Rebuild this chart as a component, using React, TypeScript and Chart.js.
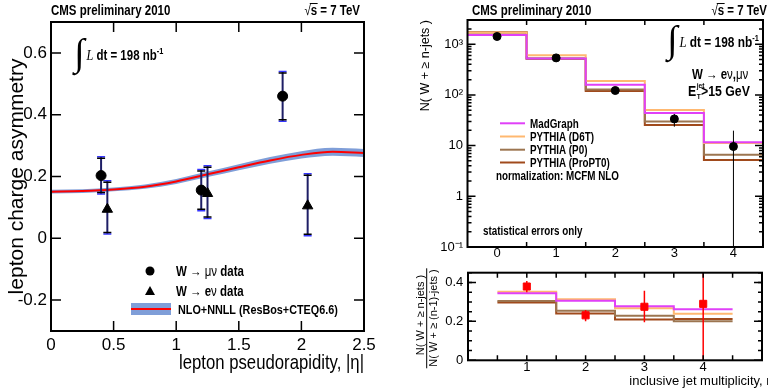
import React, { useEffect, useRef } from "react";
import { Chart, registerables } from "chart.js";

Chart.register(...registerables);

const SANS = '"Liberation Sans", Arial, sans-serif';
const SERIF = '"Liberation Serif", "DejaVu Serif", serif';
const NX = 0.82; // horizontal squeeze used for annotation text

// ---------------- Left panel: lepton charge asymmetry ----------------
const ETA_MU = [0.4, 1.2, 1.85];
const ASYM_MU = [0.203, 0.156, 0.46];
const ASYM_MU_HI = [0.264, 0.223, 0.54];
const ASYM_MU_LO = [0.143, 0.089, 0.379];

const ETA_E = [0.45, 1.25, 2.05];
const ASYM_E = [0.094, 0.145, 0.105];
const ASYM_E_HI = [0.186, 0.235, 0.209];
const ASYM_E_LO = [0.014, 0.064, 0.008];

const THEORY_ETA = [0, 0.25, 0.5, 0.75, 1.0, 1.25, 1.5, 1.75, 2.0, 2.25, 2.5];
const THEORY_ASYM = [0.151, 0.153, 0.158, 0.167, 0.184, 0.207, 0.23, 0.252, 0.27, 0.28, 0.276];
const THEORY_ERR = [0.006, 0.006, 0.006, 0.007, 0.008, 0.009, 0.01, 0.011, 0.012, 0.013, 0.013];

const ETA_TICKS = [0, 0.5, 1, 1.5, 2, 2.5];
const ETA_TICK_LABELS = ["0", "0.5", "1", "1.5", "2", "2.5"];
const ASYM_TICKS = [-0.2, 0, 0.2, 0.4, 0.6];
const ASYM_TICK_LABELS = ["-0.2", "0", "0.2", "0.4", "0.6"];

// ---------------- Right top: N(W + >= n jets) ----------------
const NJET = [0, 1, 2, 3, 4];
const NJET_LABELS = ["0", "1", "2", "3", "4"];
const NJET_EDGES = [-0.5, 0.5, 1.5, 2.5, 3.5, 4.5];
const DATA_N = [1420, 537, 122, 33.6, 9.6];
const DATA_N_HI = [1460, 560, 133, 42, 19.7];
const DATA_N_LO = [1380, 514, 111, 23.6, 0];
const MADGRAPH_N = [1510, 520, 158, 44, 11.6];
const D6T_N = [1700, 605, 188, 50.6, 11.2];
const P0_N = [1700, 520, 128, 30, 6.6];
const PROPT0_N = [1720, 515, 119, 25.5, 5.2];
const LOG_TICKS = [0.1, 1, 10, 100, 1000];
const LOG_TICK_LABELS = ["10\u207B\u00B9", "1", "10", "10\u00B2", "10\u00B3"];

// ---------------- Right bottom: ratio ----------------
const RATIO_N = [1, 2, 3, 4];
const RATIO_LABELS = ["1", "2", "3", "4"];
const RATIO_EDGES = [0.5, 1.5, 2.5, 3.5, 4.5];
const DATA_R = [0.379, 0.231, 0.275, 0.29];
const DATA_R_HI = [0.408, 0.258, 0.357, 0.6];
const DATA_R_LO = [0.349, 0.2, 0.196, 0];
const MADGRAPH_R = [0.344, 0.306, 0.278, 0.262];
const D6T_R = [0.352, 0.314, 0.267, 0.239];
const P0_R = [0.304, 0.254, 0.229, 0.2];
const PROPT0_R = [0.297, 0.241, 0.21, 0.212];
const RATIO_TICKS = [0, 0.2, 0.4];
const RATIO_TICK_LABELS = ["0", "0.2", "0.4"];

const MODEL_NAMES = ["MadGraph", "PYTHIA (D6T)", "PYTHIA (P0)", "PYTHIA (ProPT0)"];
const MODEL_COLORS = ["#e040f8", "#ffb870", "#9c7550", "#a04a1c"];

// ---------------- helpers ----------------
type Seg = { t: string; f: string; dy?: number };

function drawRich(
  ctx: CanvasRenderingContext2D,
  x: number,
  y: number,
  segs: Seg[],
  align = "left",
  sx = NX
) {
  ctx.save();
  ctx.textBaseline = "alphabetic";
  ctx.textAlign = "left";
  ctx.fillStyle = "#000";
  const widths = segs.map((s) => {
    ctx.font = s.f;
    return ctx.measureText(s.t).width;
  });
  const natural = widths.reduce((a, b) => a + b, 0);
  const total = natural * sx;
  const x0 = align === "right" ? x - total : align === "center" ? x - total / 2 : x;
  ctx.translate(x0, y);
  ctx.scale(sx, 1);
  const starts: number[] = [];
  let cx = 0;
  segs.forEach((s, i) => {
    ctx.font = s.f;
    starts.push(x0 + cx * sx);
    ctx.fillText(s.t, cx, s.dy || 0);
    cx += widths[i];
  });
  ctx.restore();
  return { starts, widths: widths.map((w) => w * sx), total };
}

function histPoints(edges: number[], vals: number[]) {
  const pts: { x: number; y: number }[] = [];
  vals.forEach((v, i) => {
    pts.push({ x: edges[i], y: v });
    pts.push({ x: edges[i + 1], y: v });
  });
  return pts;
}

function errBars(
  chart: any,
  xs: number[],
  his: number[],
  los: number[],
  color: string,
  width: number,
  capHalf: number,
  capColor?: string
) {
  const ctx = chart.ctx as CanvasRenderingContext2D;
  const xS = chart.scales.x;
  const yS = chart.scales.y;
  const a = chart.chartArea;
  ctx.save();
  ctx.beginPath();
  ctx.rect(a.left, a.top, a.right - a.left, a.bottom - a.top);
  ctx.clip();
  xs.forEach((xv, i) => {
    const px = xS.getPixelForValue(xv);
    const pHi = yS.getPixelForValue(his[i]);
    const pLo = yS.getPixelForValue(Math.max(los[i], yS.min));
    ctx.strokeStyle = color;
    ctx.lineWidth = width;
    ctx.beginPath();
    ctx.moveTo(px, pHi);
    ctx.lineTo(px, pLo);
    ctx.stroke();
    if (capHalf > 0) {
      ctx.lineWidth = 1.5;
      if (capColor) {
        ctx.strokeStyle = capColor;
        ctx.beginPath();
        ctx.moveTo(px - capHalf, pHi);
        ctx.lineTo(px + capHalf, pHi);
        ctx.moveTo(px - capHalf, pLo);
        ctx.lineTo(px + capHalf, pLo);
        ctx.stroke();
      }
      ctx.strokeStyle = "#000";
      const d = capColor ? 1.5 : 0;
      ctx.beginPath();
      ctx.moveTo(px - capHalf, pHi + d);
      ctx.lineTo(px + capHalf, pHi + d);
      ctx.moveTo(px - capHalf, pLo - d);
      ctx.lineTo(px + capHalf, pLo - d);
      ctx.stroke();
    }
  });
  ctx.restore();
}

function frame(ctx: CanvasRenderingContext2D, a: any) {
  ctx.save();
  ctx.strokeStyle = "#000";
  ctx.lineWidth = 2;
  ctx.strokeRect(a.left, a.top, a.right - a.left, a.bottom - a.top);
  ctx.restore();
}

function xTicks(ctx: CanvasRenderingContext2D, a: any, pxs: number[], len: number) {
  ctx.save();
  ctx.strokeStyle = "#000";
  ctx.lineWidth = 1.5;
  ctx.beginPath();
  pxs.forEach((p) => {
    ctx.moveTo(p, a.bottom);
    ctx.lineTo(p, a.bottom - len);
    ctx.moveTo(p, a.top);
    ctx.lineTo(p, a.top + len);
  });
  ctx.stroke();
  ctx.restore();
}

function yTicks(ctx: CanvasRenderingContext2D, a: any, pys: number[], len: number) {
  ctx.save();
  ctx.strokeStyle = "#000";
  ctx.lineWidth = 1.5;
  ctx.beginPath();
  pys.forEach((p) => {
    ctx.moveTo(a.left, p);
    ctx.lineTo(a.left + len, p);
    ctx.moveTo(a.right, p);
    ctx.lineTo(a.right - len, p);
  });
  ctx.stroke();
  ctx.restore();
}

function integralLabel(ctx: CanvasRenderingContext2D, x: number, y: number, size: number, intSize: number) {
  ctx.save();
  ctx.fillStyle = "#000";
  ctx.textBaseline = "alphabetic";
  ctx.font = `${intSize}px ${SERIF}`;
  ctx.fillText("\u222B", x, y + intSize * 0.12);
  ctx.restore();
  drawRich(ctx, x + intSize * 0.33, y, [
    { t: "L ", f: `italic ${size + 1}px ${SERIF}` },
    { t: "dt = 198 nb", f: `bold ${size}px ${SANS}` },
    { t: "-1", f: `bold ${Math.round(size * 0.62)}px ${SANS}`, dy: -size * 0.42 },
  ]);
}

function sqrtLabel(ctx: CanvasRenderingContext2D, xRight: number, y: number, size: number) {
  const r = drawRich(
    ctx,
    xRight,
    y,
    [
      { t: "\u221A", f: `${size}px ${SANS}` },
      { t: "s", f: `bold ${size}px ${SANS}` },
      { t: " = 7 TeV", f: `bold ${size}px ${SANS}` },
    ],
    "right"
  );
  ctx.save();
  ctx.strokeStyle = "#000";
  ctx.lineWidth = 1;
  ctx.beginPath();
  const top = y - size * 0.82;
  ctx.moveTo(r.starts[1] - 1, top);
  ctx.lineTo(r.starts[1] + r.widths[1] + 0.5, top);
  ctx.stroke();
  ctx.restore();
}

function rotatedText(
  ctx: CanvasRenderingContext2D,
  text: string,
  x: number,
  y: number,
  font: string,
  align: CanvasTextAlign
) {
  ctx.save();
  ctx.fillStyle = "#000";
  ctx.font = font;
  ctx.textAlign = align;
  ctx.textBaseline = "alphabetic";
  ctx.translate(x, y);
  ctx.rotate(-Math.PI / 2);
  ctx.fillText(text, 0, 0);
  ctx.restore();
}

const tickFont = (size: number) => ({ family: SANS, size, lineHeight: 1 });

// ---------------- Left chart ----------------
function leftConfig(): any {
  const decor = {
    id: "leftDecor",
    beforeDatasetDraw(chart: any, args: any) {
      if (args.index === 0) errBars(chart, ETA_MU, ASYM_MU_HI, ASYM_MU_LO, "#1e1e66", 2, 4, "#3535ff");
      if (args.index === 1) errBars(chart, ETA_E, ASYM_E_HI, ASYM_E_LO, "#1e1e66", 2, 4, "#3535ff");
    },
    afterDraw(chart: any) {
      const ctx = chart.ctx as CanvasRenderingContext2D;
      const a = chart.chartArea;
      const xS = chart.scales.x;
      const yS = chart.scales.y;
      frame(ctx, a);
      xTicks(ctx, a, ETA_TICKS.map((v) => xS.getPixelForValue(v)), 10);
      yTicks(ctx, a, ASYM_TICKS.map((v) => yS.getPixelForValue(v)), 10);

      drawRich(ctx, 51, 15, [{ t: "CMS preliminary 2010", f: `bold 14px ${SANS}` }]);
      sqrtLabel(ctx, 360, 15, 14);
      integralLabel(ctx, 74, 60, 14, 38);

      // axis titles
      rotatedText(ctx, "lepton charge asymmetry", 22.5, (a.top + a.bottom) / 2, `21px ${SANS}`, "center");
      drawRich(ctx, a.right, 369, [{ t: "lepton pseudorapidity, |\u03B7|", f: `20.4px ${SANS}` }], "right");

      // legend
      ctx.save();
      ctx.fillStyle = "#000";
      ctx.beginPath();
      ctx.arc(150, 271, 4.5, 0, Math.PI * 2);
      ctx.fill();
      ctx.beginPath();
      ctx.moveTo(150, 286);
      ctx.lineTo(155, 295);
      ctx.lineTo(145, 295);
      ctx.closePath();
      ctx.fill();
      ctx.fillStyle = "#7f9ed8";
      ctx.fillRect(131, 303, 40, 12);
      ctx.strokeStyle = "#ff0000";
      ctx.lineWidth = 2;
      ctx.beginPath();
      ctx.moveTo(131, 309);
      ctx.lineTo(171, 309);
      ctx.stroke();
      ctx.restore();
      const lf = `bold 14px ${SANS}`;
      const rf = `14px ${SANS}`;
      drawRich(ctx, 176, 276, [
        { t: "W ", f: lf },
        { t: "\u2192 \u03BC\u03BD", f: rf },
        { t: " data", f: lf },
      ]);
      drawRich(ctx, 176, 296, [
        { t: "W ", f: lf },
        { t: "\u2192 ", f: rf },
        { t: "e", f: lf },
        { t: "\u03BD", f: rf },
        { t: " data", f: lf },
      ]);
      drawRich(ctx, 178, 314, [{ t: "NLO+NNLL (ResBos+CTEQ6.6)", f: `bold 13.2px ${SANS}` }]);
    },
  };

  return {
    type: "scatter",
    data: {
      datasets: [
        {
          data: ETA_MU.map((x, i) => ({ x, y: ASYM_MU[i] })),
          pointStyle: "circle",
          pointRadius: 5,
          backgroundColor: "#000",
          borderColor: "#000",
        },
        {
          data: ETA_E.map((x, i) => ({ x, y: ASYM_E[i] })),
          pointStyle: "triangle",
          pointRadius: 6,
          backgroundColor: "#000",
          borderColor: "#000",
        },
        {
          data: THEORY_ETA.map((x, i) => ({ x, y: THEORY_ASYM[i] })),
          showLine: true,
          borderColor: "#ff0000",
          borderWidth: 2,
          pointRadius: 0,
          cubicInterpolationMode: "monotone",
        },
        {
          data: THEORY_ETA.map((x, i) => ({ x, y: THEORY_ASYM[i] + THEORY_ERR[i] })),
          showLine: true,
          borderWidth: 0,
          borderColor: "rgba(0,0,0,0)",
          backgroundColor: "#7f9ed8",
          pointRadius: 0,
          fill: "+1",
          cubicInterpolationMode: "monotone",
        },
        {
          data: THEORY_ETA.map((x, i) => ({ x, y: THEORY_ASYM[i] - THEORY_ERR[i] })),
          showLine: true,
          borderWidth: 0,
          borderColor: "rgba(0,0,0,0)",
          pointRadius: 0,
          cubicInterpolationMode: "monotone",
        },
      ],
    },
    options: {
      animation: false,
      responsive: false,
      devicePixelRatio: 1,
      events: [],
      layout: { padding: { top: 22, right: 20, left: 0, bottom: 0 } },
      plugins: { legend: { display: false }, tooltip: { enabled: false } },
      scales: {
        x: {
          type: "linear",
          min: 0,
          max: 2.5,
          grid: { display: false, drawTicks: false },
          border: { display: false },
          afterBuildTicks: (s: any) => {
            s.ticks = ETA_TICKS.map((v) => ({ value: v }));
          },
          afterFit: (s: any) => {
            s.height = 60;
          },
          ticks: {
            autoSkip: false,
            maxRotation: 0,
            color: "#000",
            padding: 5.5,
            font: tickFont(17),
            callback: (_v: any, i: number) => ETA_TICK_LABELS[i],
          },
        },
        y: {
          type: "linear",
          min: -0.3,
          max: 0.7,
          grid: { display: false, drawTicks: false },
          border: { display: false },
          afterBuildTicks: (s: any) => {
            s.ticks = ASYM_TICKS.map((v) => ({ value: v }));
          },
          afterFit: (s: any) => {
            s.width = 51;
          },
          ticks: {
            autoSkip: false,
            color: "#000",
            padding: 4,
            font: tickFont(17),
            callback: (_v: any, i: number) => ASYM_TICK_LABELS[i],
          },
        },
      },
    },
    plugins: [decor],
  };
}

// ---------------- Right top chart ----------------
function topRightConfig(): any {
  const decor = {
    id: "trDecor",
    beforeDatasetDraw(chart: any, args: any) {
      if (args.index === 0) errBars(chart, NJET, DATA_N_HI, DATA_N_LO, "#000", 1, 0);
    },
    afterDraw(chart: any) {
      const ctx = chart.ctx as CanvasRenderingContext2D;
      const a = chart.chartArea;
      const xS = chart.scales.x;
      const yS = chart.scales.y;
      frame(ctx, a);
      xTicks(ctx, a, NJET_EDGES.slice(1, -1).map((v) => xS.getPixelForValue(v)), 5);
      yTicks(ctx, a, LOG_TICKS.map((v) => yS.getPixelForValue(v)), 8);
      const minor: number[] = [];
      LOG_TICKS.forEach((d) => {
        for (let k = 2; k <= 9; k++) {
          const v = d * k;
          if (v < yS.max) minor.push(yS.getPixelForValue(v));
        }
      });
      yTicks(ctx, a, minor, 4);

      drawRich(ctx, 88, 15, [{ t: "CMS preliminary 2010", f: `bold 14px ${SANS}` }]);
      sqrtLabel(ctx, 383, 15, 14);
      integralLabel(ctx, 283, 47, 14.5, 38);

      const bf = `bold 14px ${SANS}`;
      const rf = `14px ${SANS}`;
      drawRich(ctx, 308, 78.5, [
        { t: "W ", f: bf },
        { t: "\u2192 ", f: rf },
        { t: "e", f: bf },
        { t: "\u03BD", f: rf },
        { t: ",", f: bf },
        { t: "\u03BC\u03BD", f: rf },
      ]);
      const e = drawRich(ctx, 304, 96, [{ t: "E", f: `bold 15px ${SANS}` }]);
      const ex = e.starts[0] + e.widths[0] + 0.5;
      drawRich(ctx, ex, 88, [{ t: "jet", f: `bold 8px ${SANS}` }]);
      drawRich(ctx, ex, 99, [{ t: "T", f: `bold 8px ${SANS}` }]);
      drawRich(ctx, 317, 96, [{ t: ">15 GeV", f: `bold 15px ${SANS}` }]);

      // legend
      const rows = [127.6, 140.8, 154, 166.8];
      rows.forEach((y, i) => {
        ctx.save();
        ctx.strokeStyle = MODEL_COLORS[i];
        ctx.lineWidth = 2;
        ctx.beginPath();
        ctx.moveTo(116, y - 4.3);
        ctx.lineTo(141, y - 4.3);
        ctx.stroke();
        ctx.restore();
        drawRich(ctx, 146, y, [{ t: MODEL_NAMES[i], f: `bold 12px ${SANS}` }]);
      });
      drawRich(ctx, 112, 180, [{ t: "normalization: MCFM NLO", f: `bold 12px ${SANS}` }]);
      drawRich(ctx, 99, 234.5, [{ t: "statistical errors only", f: `bold 12px ${SANS}` }]);

      // y title
      rotatedText(ctx, "N( W + \u2265 n-jets )", 45, a.top, `12.5px ${SANS}`, "right");
    },
  };

  const models = [MADGRAPH_N, D6T_N, P0_N, PROPT0_N];
  return {
    type: "scatter",
    data: {
      datasets: [
        {
          data: NJET.map((x, i) => ({ x, y: DATA_N[i] })),
          pointStyle: "circle",
          pointRadius: 4,
          backgroundColor: "#000",
          borderColor: "#000",
        },
        ...models.map((m, i) => ({
          data: histPoints(NJET_EDGES, m),
          showLine: true,
          borderColor: MODEL_COLORS[i],
          borderWidth: 2,
          pointRadius: 0,
        })),
      ],
    },
    options: {
      animation: false,
      responsive: false,
      devicePixelRatio: 1,
      events: [],
      layout: { padding: { top: 20, right: 1, left: 0, bottom: 0 } },
      plugins: { legend: { display: false }, tooltip: { enabled: false } },
      scales: {
        x: {
          type: "linear",
          min: -0.5,
          max: 4.5,
          grid: { display: false, drawTicks: false },
          border: { display: false },
          afterBuildTicks: (s: any) => {
            s.ticks = NJET.map((v) => ({ value: v }));
          },
          afterFit: (s: any) => {
            s.height = 23;
          },
          ticks: {
            autoSkip: false,
            maxRotation: 0,
            color: "#000",
            padding: 0,
            font: tickFont(13),
            callback: (_v: any, i: number) => NJET_LABELS[i],
          },
        },
        y: {
          type: "logarithmic",
          min: 0.1,
          max: 3000,
          grid: { display: false, drawTicks: false },
          border: { display: false },
          afterBuildTicks: (s: any) => {
            s.ticks = LOG_TICKS.map((v) => ({ value: v }));
          },
          afterFit: (s: any) => {
            s.width = 83.5;
          },
          ticks: {
            autoSkip: false,
            color: "#000",
            padding: 4.5,
            font: tickFont(13),
            callback: (_v: any, i: number) => LOG_TICK_LABELS[i],
          },
        },
      },
    },
    plugins: [decor],
  };
}

// ---------------- Right bottom chart ----------------
function bottomRightConfig(): any {
  const decor = {
    id: "brDecor",
    beforeDatasetDraw(chart: any, args: any) {
      if (args.index === 0) errBars(chart, RATIO_N, DATA_R_HI, DATA_R_LO, "#ff0000", 1.5, 0);
    },
    afterDraw(chart: any) {
      const ctx = chart.ctx as CanvasRenderingContext2D;
      const a = chart.chartArea;
      const xS = chart.scales.x;
      const yS = chart.scales.y;
      frame(ctx, a);
      const xm: number[] = [];
      for (let v = 0.5; v < xS.max; v += 0.5) xm.push(xS.getPixelForValue(v));
      xTicks(ctx, a, xm, 5);
      yTicks(ctx, a, RATIO_TICKS.map((v) => yS.getPixelForValue(v)), 8);
      const ym: number[] = [];
      for (let v = 0.05; v < yS.max; v += 0.05) ym.push(yS.getPixelForValue(v));
      yTicks(ctx, a, ym, 4);

      // y title as a fraction
      rotatedText(ctx, "N( W + \u2265 n-jets )", 39.5, 65, `11px ${SANS}`, "center");
      rotatedText(ctx, "N( W + \u2265 (n-1)-jets )", 52.5, 68, `11px ${SANS}`, "center");
      ctx.save();
      ctx.strokeStyle = "#000";
      ctx.lineWidth = 1;
      ctx.beginPath();
      ctx.moveTo(42.7, 18.3);
      ctx.lineTo(42.7, 118.3);
      ctx.stroke();
      ctx.restore();

      drawRich(ctx, 245.3, 135, [{ t: "inclusive jet multiplicity, n", f: `13px ${SANS}` }], "left", 1);
    },
  };
  const models = [MADGRAPH_R, D6T_R, P0_R, PROPT0_R];
  return {
    type: "scatter",
    data: {
      datasets: [
        {
          data: RATIO_N.map((x, i) => ({ x, y: DATA_R[i] })),
          pointStyle: "rect",
          pointRadius: 5,
          backgroundColor: "#ff0000",
          borderColor: "#ff0000",
        },
        ...models.map((m, i) => ({
          data: histPoints(RATIO_EDGES, m),
          showLine: true,
          borderColor: MODEL_COLORS[i],
          borderWidth: 2,
          pointRadius: 0,
        })),
      ],
    },
    options: {
      animation: false,
      responsive: false,
      devicePixelRatio: 1,
      events: [],
      layout: { padding: { top: 22.7, right: 1, left: 0, bottom: 0 } },
      plugins: { legend: { display: false }, tooltip: { enabled: false } },
      scales: {
        x: {
          type: "linear",
          min: 0,
          max: 5,
          grid: { display: false, drawTicks: false },
          border: { display: false },
          afterBuildTicks: (s: any) => {
            s.ticks = RATIO_N.map((v) => ({ value: v }));
          },
          afterFit: (s: any) => {
            s.height = 30.7;
          },
          ticks: {
            autoSkip: false,
            maxRotation: 0,
            color: "#000",
            padding: 1,
            font: tickFont(13),
            callback: (_v: any, i: number) => RATIO_LABELS[i],
          },
        },
        y: {
          type: "linear",
          min: 0,
          max: 0.45,
          grid: { display: false, drawTicks: false },
          border: { display: false },
          afterBuildTicks: (s: any) => {
            s.ticks = RATIO_TICKS.map((v) => ({ value: v }));
          },
          afterFit: (s: any) => {
            s.width = 84;
          },
          ticks: {
            autoSkip: false,
            color: "#000",
            padding: 4.7,
            font: tickFont(13),
            callback: (_v: any, i: number) => RATIO_TICK_LABELS[i],
          },
        },
      },
    },
    plugins: [decor],
  };
}

export default function App() {
  const r1 = useRef<HTMLCanvasElement>(null);
  const r2 = useRef<HTMLCanvasElement>(null);
  const r3 = useRef<HTMLCanvasElement>(null);

  useEffect(() => {
    const c1 = new Chart(r1.current as HTMLCanvasElement, leftConfig());
    const c2 = new Chart(r2.current as HTMLCanvasElement, topRightConfig());
    const c3 = new Chart(r3.current as HTMLCanvasElement, bottomRightConfig());
    return () => {
      c1.destroy();
      c2.destroy();
      c3.destroy();
    };
  }, []);

  return (
    <div
      style={{
        position: "absolute",
        left: 0,
        top: 0,
        width: 768,
        height: 391,
        background: "#fff",
        overflow: "hidden",
      }}
    >
      <canvas
        ref={r1}
        width={384}
        height={391}
        style={{ position: "absolute", left: 0, top: 0, width: 384, height: 391 }}
      />
      <canvas
        ref={r2}
        width={384}
        height={270}
        style={{ position: "absolute", left: 384, top: 0, width: 384, height: 270 }}
      />
      <canvas
        ref={r3}
        width={384}
        height={141}
        style={{ position: "absolute", left: 384, top: 250, width: 384, height: 141 }}
      />
    </div>
  );
}
